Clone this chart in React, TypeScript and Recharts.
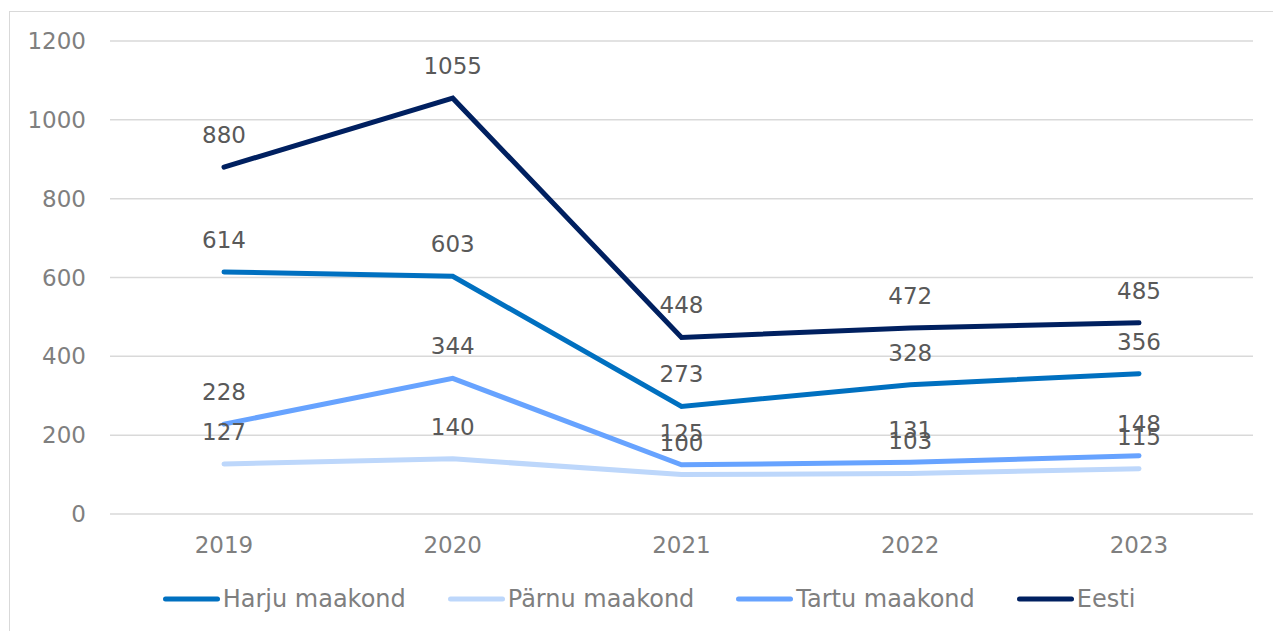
import { LineChart, Line, XAxis, YAxis, CartesianGrid, Legend, LabelList } from 'recharts';

const years = ['2019', '2020', '2021', '2022', '2023'];
const harju = [614, 603, 273, 328, 356];
const parnu = [127, 140, 100, 103, 115];
const tartu = [228, 344, 125, 131, 148];
const eesti = [880, 1055, 448, 472, 485];
const yTicks = [0, 200, 400, 600, 800, 1000, 1200];

const series = [
  { key: 'harju', name: 'Harju maakond', color: '#0070C0' },
  { key: 'parnu', name: 'Pärnu maakond', color: '#BDD7FB' },
  { key: 'tartu', name: 'Tartu maakond', color: '#67A3FF' },
  { key: 'eesti', name: 'Eesti', color: '#002060' },
];

const data = years.map((year, i) => ({
  year,
  harju: harju[i],
  parnu: parnu[i],
  tartu: tartu[i],
  eesti: eesti[i],
}));

const FONT = '"DejaVu Sans", Verdana, sans-serif';

function LegendContent() {
  return (
    <div style={{ height: 40, display: 'flex', alignItems: 'center', justifyContent: 'center' }}>
      {series.map((s, i) => (
        <div key={s.key} style={{ display: 'flex', alignItems: 'center', marginLeft: i === 0 ? 0 : 42 }}>
          <svg width={57} height={10}>
            <line x1={2.5} y1={5} x2={54.5} y2={5} stroke={s.color} strokeWidth={5} strokeLinecap="round" />
          </svg>
          <span style={{ marginLeft: 3, fontSize: 24, color: '#7f7f7f', lineHeight: '28px' }}>{s.name}</span>
        </div>
      ))}
    </div>
  );
}

export default function App() {
  return (
    <div
      style={{
        position: 'absolute',
        left: 9,
        top: 11,
        width: 1278,
        height: 640,
        border: '1px solid #d9d9d9',
        background: '#fff',
        fontFamily: FONT,
      }}
    >
      <LineChart width={1278} height={640} data={data} margin={{ top: 29, right: 35, left: 0, bottom: 33 }}>
        <CartesianGrid horizontal vertical={false} stroke="#d9d9d9" strokeWidth={1.5} />
        <XAxis
          dataKey="year"
          height={65}
          padding={{ left: 114, right: 114 }}
          axisLine={false}
          tickLine={false}
          tickMargin={17}
          tick={{ fill: '#7f7f7f', fontSize: 23, fontFamily: FONT }}
        />
        <YAxis
          width={100}
          domain={[0, 1200]}
          ticks={yTicks}
          axisLine={false}
          tickLine={false}
          tickMargin={18}
          tick={{ fill: '#7f7f7f', fontSize: 23, fontFamily: FONT }}
        />
        <Legend
          verticalAlign="bottom"
          content={<LegendContent />}
          wrapperStyle={{ left: 0, width: 1278 }}
        />
        {series.map((s) => (
          <Line
            key={s.key}
            dataKey={s.key}
            name={s.name}
            stroke={s.color}
            strokeWidth={5}
            strokeLinecap="round"
            dot={false}
            activeDot={false}
            isAnimationActive={false}
          >
            <LabelList
              dataKey={s.key}
              position="top"
              offset={24}
              fill="#595959"
              fontSize={23}
              fontFamily={FONT}
            />
          </Line>
        ))}
      </LineChart>
    </div>
  );
}
